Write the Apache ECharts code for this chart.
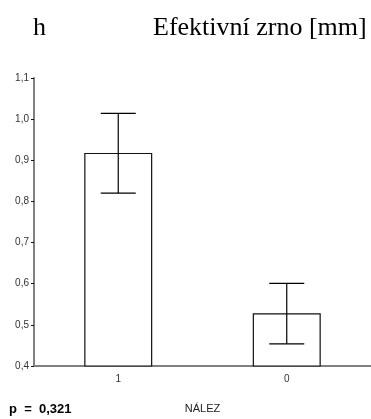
<!DOCTYPE html>
<html>
<head>
<meta charset="utf-8">
<script src="https://cdn.jsdelivr.net/npm/echarts@6/dist/echarts.min.js"></script>
<style>html,body{margin:0;padding:0;background:#fff;}#c{width:371px;height:419px;}</style>
</head>
<body>
<div id="c"></div>
<script>
const categories = ['1', '0'];
const means = [0.918, 0.528];
const upper = [1.014, 0.601];
const lower = [0.820, 0.454];
const yTicks = [0.4, 0.5, 0.6, 0.7, 0.8, 0.9, 1.0, 1.1];

const chart = echarts.init(document.getElementById('c'), null, {renderer: 'canvas'});
const errData = categories.map((c, i) => [i, lower[i], upper[i]]);

chart.setOption({
  animation: false,
  backgroundColor: '#fff',
  title: [
    {text: 'h', left: 28, top: 10, textStyle: {fontFamily: 'Liberation Serif', fontSize: 26, fontWeight: 'normal', color: '#000'}},
    {text: 'Efektivní zrno [mm]', left: 148, top: 10, textStyle: {fontFamily: 'Liberation Serif', fontSize: 26, fontWeight: 'normal', color: '#000'}}
  ],
  graphic: [
    {type: 'text', left: 9, top: 403, style: {text: 'p  =  0,321', font: 'bold 13px "Liberation Sans"', fill: '#000'}}
  ],
  grid: {left: 34, top: 78, width: 342, height: 288, containLabel: false},
  xAxis: {
    type: 'category',
    data: categories,
    name: 'NÁLEZ',
    nameLocation: 'middle',
    nameGap: 37,
    nameTextStyle: {fontFamily: 'Liberation Sans', fontSize: 11, color: '#222'},
    axisLine: {lineStyle: {color: '#808080', width: 2}},
    axisTick: {alignWithLabel: true, inside: true, length: 2, lineStyle: {color: '#444'}},
    axisLabel: {fontFamily: 'Liberation Sans', fontSize: 10, color: '#333', margin: 8}
  },
  yAxis: {
    type: 'value',
    min: 0.4, max: 1.1, interval: 0.1,
    axisLine: {show: true, lineStyle: {color: '#808080', width: 2}},
    axisTick: {show: true, length: 3, lineStyle: {color: '#111'}},
    splitLine: {show: false},
    axisLabel: {fontFamily: 'Liberation Sans', fontSize: 10, color: '#333', margin: 5,
      formatter: v => v.toFixed(1).replace('.', ',')}
  },
  series: [
    {
      type: 'bar',
      data: means,
      barWidth: 68,
      itemStyle: {color: '#fff', borderColor: '#111', borderWidth: 1.2},
      z: 2
    },
    {
      type: 'custom',
      data: errData,
      z: 3,
      renderItem: function (params, api) {
        const x = api.value(0);
        const lo = api.coord([x, api.value(1)]);
        const hi = api.coord([x, api.value(2)]);
        const hw = 17.5;
        const style = {stroke: '#000', lineWidth: 1.2};
        return {
          type: 'group',
          children: [
            {type: 'line', shape: {x1: lo[0], y1: lo[1], x2: hi[0], y2: hi[1]}, style},
            {type: 'line', shape: {x1: hi[0] - hw, y1: hi[1], x2: hi[0] + hw, y2: hi[1]}, style},
            {type: 'line', shape: {x1: lo[0] - hw, y1: lo[1], x2: lo[0] + hw, y2: lo[1]}, style}
          ]
        };
      }
    }
  ]
});
</script>
</body>
</html>
